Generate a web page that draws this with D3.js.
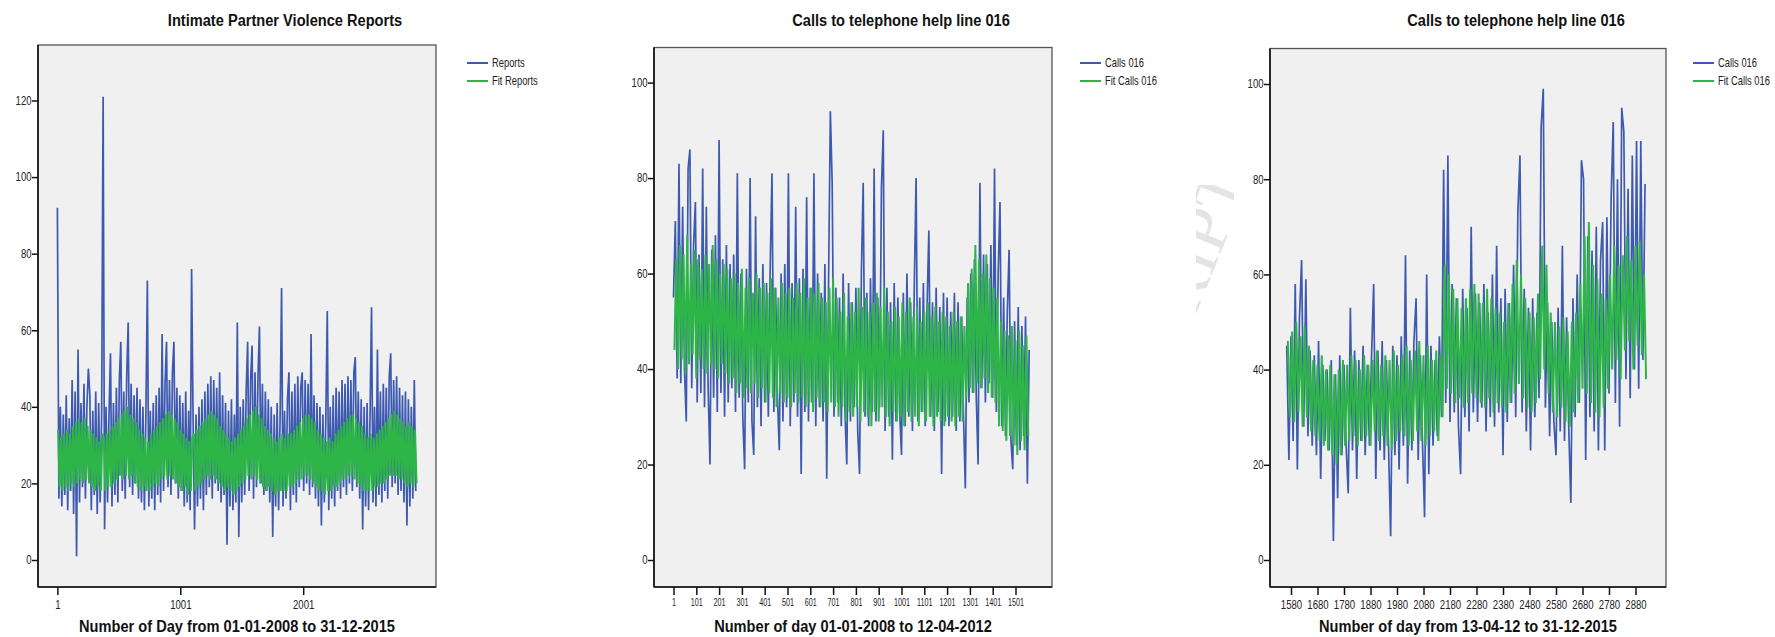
<!DOCTYPE html>
<html>
<head>
<meta charset="utf-8">
<script src="https://cdn.jsdelivr.net/npm/d3@7/dist/d3.min.js"></script>
<style>
  body { margin: 0; background: #fff; }
  svg { display: block; font-family: "Liberation Sans", Arial, sans-serif; }
</style>
</head>
<body>
<svg id="chart" width="1775" height="637"></svg>
<script>
// ---- data ----
// panel 1: reports, one value every 12 days from day 1; fit every 12 days from day 7
var reportsValues = [
  92,16,40,14,38,17,43,13,37,18,47,12,44,1,55,15,41,19,46,16,40,50,43,13,39,17,44,12,41,15,38,
  121,8,40,15,38,54,14,41,17,45,15,47,57,18,44,16,48,62,19,46,17,43,20,45,16,42,15,40,13,38,
  73,14,39,16,41,13,43,17,45,15,59,18,46,57,19,47,17,49,57,20,45,16,43,18,41,14,44,15,39,13,76,
  37,8,38,14,40,16,42,13,44,17,46,19,48,16,47,20,45,18,49,15,43,17,41,4,39,14,42,13,38,15,
  62,6,40,15,42,17,44,57,18,47,56,16,49,19,48,61,20,46,17,44,18,42,15,40,6,38,14,41,13,37,71,
  14,39,16,42,49,13,44,17,46,15,48,19,45,49,18,47,20,46,17,59,19,43,16,41,14,40,9,38,15,37,
  65,13,40,16,43,14,45,18,44,16,47,19,46,17,48,20,47,18,49,53,19,44,16,42,8,40,14,41,13,38,
  66,15,40,14,55,17,44,15,46,18,45,16,48,54,19,47,20,48,17,45,18,43,15,44,9,42,14,40,16,47,18
];
var fitReportsValues = [
  34,19,32,18,33,19,34,18,33,20,35,19,36,20,37,21,36,20,37,21,35,20,34,19,33,18,32,19,31,18,33,
  32,18,33,19,34,19,35,20,36,21,37,22,38,21,39,22,40,21,38,22,37,20,36,19,34,18,33,19,32,18,
  31,18,33,19,34,20,35,19,36,21,37,22,38,21,39,22,38,21,37,20,36,19,34,18,33,19,32,17,31,18,32,
  33,18,34,19,35,20,36,21,37,22,38,21,39,22,38,21,37,20,35,19,34,18,33,19,32,18,31,17,32,18,
  33,19,34,20,35,21,37,22,38,21,39,22,40,21,38,20,37,19,35,18,34,19,33,18,32,17,31,18,32,18,33,
  18,32,18,33,19,33,19,34,20,35,21,36,21,37,22,38,22,38,21,37,20,36,19,34,18,33,18,32,17,31,
  18,32,18,31,19,33,19,34,20,35,21,36,21,37,22,38,22,38,21,37,20,36,19,35,18,33,18,32,18,33,
  18,32,19,33,19,34,20,35,20,36,21,37,22,38,22,39,22,38,21,37,21,36,20,35,19,36,20,35,19,34,20
];

// panel 2: calls 016, one value every 8 days from day 1; fit every 8 days from day 5
var calls1Values = [
  55,71,38,83,37,74,40,29,82,86, 36,66,75,33,64,35,82,32,74,36, 20,65,34,68,31,88,35,63,30,66,
  33,62,36,64,31,81,34,60,30,19, 61,33,80,29,22,72,32,59,28,62, 33,58,30,61,81,31,57,34,23,60,
  29,62,32,81,28,58,33,74,30,59, 18,61,31,76,29,57,33,81,28,60, 32,56,29,62,17,58,94,79,30,57,
  33,55,28,60,31,20,58,29,54,32, 57,27,18,60,79,30,56,28,59,31, 82,29,55,32,78,90,27,57,30,54,
  21,58,29,55,31,22,56,28,60,30, 54,27,57,80,29,55,31,58,28,53, 69,30,54,27,57,31,53,18,56,29,
  55,28,52,30,56,27,54,29,51,30, 15,55,33,60,35,63,34,20,79,36, 64,33,62,37,66,34,82,31,60,75,
  28,55,26,52,65,25,19,50,24,53, 23,49,26,51,16,44
];
var fitCalls1Values = [
  44,63,40,66,42,64,39,68,41,62, 43,65,38,63,42,61,40,64,39,62, 41,66,40,63,38,60,41,62,39,61,
  37,59,38,60,35,58,37,61,34,57, 36,59,35,56,37,60,34,57,36,58, 33,56,35,59,34,57,32,55,35,58,
  33,56,34,57,32,55,35,58,33,56, 34,59,32,55,33,57,31,56,34,58, 32,55,33,54,31,57,33,59,32,55,
  30,52,32,56,29,51,31,54,30,52, 32,57,29,53,31,55,30,52,28,54, 31,56,29,53,32,57,30,52,28,50,
  31,53,29,51,30,54,28,52,31,55, 29,51,30,53,28,50,31,52,29,54, 30,51,28,53,30,50,29,52,28,51,
  30,49,29,52,28,50,30,51,29,49, 34,58,36,61,35,66,37,63,36,60, 38,64,35,59,34,57,33,55,28,50,
  27,48,25,47,26,49,24,46,22,48, 25,45,23,47,26
];

// panel 3: calls 016, one value every 8 days from day 1564; fit every 8 days from day 1568
var calls2Values = [
  45,21,47,25,58,19,51,63,28,59, 26,44,24,43,22,46,17,41,25,40, 23,42,4,39,13,43,22,41,24,14,
  53,23,44,17,42,25,45,22,41,24, 43,58,17,44,23,46,21,42,24,5, 45,22,43,19,47,24,64,16,44,23,
  46,55,21,43,25,9,60,18,45,24, 42,26,47,30,82,33,85,29,58,31, 55,28,18,57,30,53,27,70,31,56,
  29,54,32,58,27,52,30,60,28,66, 31,55,22,57,29,54,33,62,30,73, 85,31,57,27,53,23,55,30,52,34,
  91,99,32,54,26,50,29,22,53,27, 66,25,51,28,12,55,30,60,33,84, 80,21,68,30,65,27,70,23,63,71,
  23,72,35,76,92,33,80,28,95,90, 38,78,34,85,40,88,36,88,42,79
];
var fitCalls2Values = [
  46,30,48,29,50,31,47,28,49,30, 45,27,42,26,41,25,43,24,40,23, 41,22,39,20,40,22,42,24,41,25,
  43,26,42,24,40,25,43,26,41,24, 42,27,44,25,41,26,43,24,42,23, 44,25,41,27,43,26,45,24,42,25,
  44,27,46,25,43,24,45,26,42,27, 44,25,43,30,62,36,60,35,57,33, 55,34,53,32,55,33,57,35,58,34,
  56,33,54,32,57,34,55,31,53,33, 52,32,50,31,54,33,58,35,63,37, 60,34,55,32,52,31,51,33,56,38,
  66,40,62,35,52,31,50,30,49,32, 51,29,48,28,50,31,52,33,58,36, 68,35,71,33,62,31,59,30,56,32,
  55,36,60,40,66,42,62,38,64,44, 68,46,63,40,66,45,67,43,60,38
];

var ticks1 = [1, 1001, 2001];
var ticks2 = [1, 101, 201, 301, 401, 501, 601, 701, 801, 901, 1001, 1101, 1201, 1301, 1401, 1501];
var ticks3 = [1580, 1680, 1780, 1880, 1980, 2080, 2180, 2280, 2380, 2480, 2580, 2680, 2780, 2880];
var yTicks1 = [0, 20, 40, 60, 80, 100, 120];
var yTicks2 = [0, 20, 40, 60, 80, 100];

var blue = "#3d59b0", green = "#2db547";

var panels = [
  { title: "Intimate Partner Violence Reports", xTitle: "Number of Day from 01-01-2008 to 31-12-2015",
    box: [38, 45, 436, 587], xd: [1, 2001], xr: [57.4, 303.2], yd: [0, 120], yr: [560, 100.5],
    series: reportsValues, sStart: 1, sStep: 12, fit: fitReportsValues, fStart: 7, fStep: 12,
    xTicks: ticks1, yTicks: yTicks1, xFont: 12, legendGap: 31, names: ["Reports", "Fit Reports"] },
  { title: "Calls to telephone help line 016", xTitle: "Number of day 01-01-2008 to 12-04-2012",
    box: [654, 47.5, 1052, 587], xd: [1, 1501], xr: [673.5, 1015.5], yd: [0, 100], yr: [560, 82.6],
    series: calls1Values, sStart: 1, sStep: 8, fit: fitCalls1Values, fStart: 5, fStep: 8,
    xTicks: ticks2, yTicks: yTicks2, xFont: 10, legendGap: 28, names: ["Calls 016", "Fit Calls 016"] },
  { title: "Calls to telephone help line 016", xTitle: "Number of day from 13-04-12 to 31-12-2015",
    box: [1270, 48.5, 1666, 587], xd: [1580, 2880], xr: [1291, 1635.5], yd: [0, 100], yr: [560, 84],
    series: calls2Values, sStart: 1564, sStep: 8, fit: fitCalls2Values, fStart: 1568, fStep: 8,
    xTicks: ticks3, yTicks: yTicks2, xFont: 12, legendGap: 27, names: ["Calls 016", "Fit Calls 016"] }
];

var svg = d3.select("#chart");

// narrow look of the original (no narrow font installed): squeeze text horizontally
function label(parent, x, y, str, size, bold, anchor, squeeze) {
  return parent.append("text")
    .attr("transform", "translate(" + x + "," + y + ") scale(" + squeeze + ",1)")
    .attr("text-anchor", anchor)
    .style("font-size", size + "px")
    .style("font-weight", bold ? "bold" : "normal")
    .attr("fill", "#111")
    .text(str);
}

// faint watermark left over between panels 2 and 3 (clip on the group, not the rotated text)
svg.append("clipPath").attr("id", "wm").append("rect")
  .attr("x", 1196).attr("y", 185).attr("width", 38).attr("height", 135);
svg.append("g").attr("clip-path", "url(#wm)")
  .append("text")
  .attr("transform", "translate(1250,180) rotate(-68)")
  .attr("text-anchor", "end")
  .attr("fill", "#e4e4e4")
  .style("font-family", "Liberation Serif, serif")
  .style("font-size", "70px")
  .text("MANUSCRIPT");

panels.forEach(function(p, i) {
  var g = svg.append("g");
  var x0 = p.box[0], y0 = p.box[1], x1 = p.box[2], y1 = p.box[3];
  var cx = (x0 + x1) / 2;

  var x = d3.scaleLinear().domain(p.xd).range(p.xr);
  var y = d3.scaleLinear().domain(p.yd).range(p.yr);

  g.append("rect").attr("x", x0).attr("y", y0).attr("width", x1 - x0).attr("height", y1 - y0)
    .attr("fill", "#f0f0f0");

  g.append("clipPath").attr("id", "clip" + i).append("rect")
    .attr("x", x0).attr("y", y0).attr("width", x1 - x0).attr("height", y1 - y0);

  var line = function(start, step) {
    return d3.line()
      .x(function(d, k) { return x(start + k * step); })
      .y(function(d) { return y(d); });
  };

  g.append("path").datum(p.series)
    .attr("clip-path", "url(#clip" + i + ")")
    .attr("fill", "none").attr("stroke", blue).attr("stroke-width", 1.7)
    .attr("d", line(p.sStart, p.sStep));

  g.append("path").datum(p.fit)
    .attr("clip-path", "url(#clip" + i + ")")
    .attr("fill", "none").attr("stroke", green).attr("stroke-width", 2)
    .attr("d", line(p.fStart, p.fStep));

  // frame
  g.append("rect").attr("x", x0).attr("y", y0).attr("width", x1 - x0).attr("height", y1 - y0)
    .attr("fill", "none").attr("stroke", "#555").attr("stroke-width", 1.3);

  // y axis
  var ya = g.append("g").attr("transform", "translate(" + x0 + ",0)")
    .call(d3.axisLeft(y).tickValues(p.yTicks).tickSize(6).tickPadding(2).tickFormat(d3.format("d")));
  ya.select(".domain").attr("d", "M0," + y0 + "V" + y1).attr("stroke", "#111").attr("stroke-width", 1.6);
  ya.selectAll(".tick line").attr("stroke", "#111").attr("stroke-width", 1.5);
  ya.selectAll(".tick text").attr("fill", "#222").style("font-size", "12px")
    .attr("transform", "scale(0.8,1)");

  // x axis
  var xa = g.append("g").attr("transform", "translate(0," + y1 + ")")
    .call(d3.axisBottom(x).tickValues(p.xTicks).tickSize(8).tickPadding(p.xFont < 12 ? 4 : 5).tickFormat(d3.format("d")));
  xa.select(".domain").attr("d", "M" + x0 + ",0H" + x1).attr("stroke", "#111").attr("stroke-width", 1.6);
  xa.selectAll(".tick line").attr("stroke", "#111").attr("stroke-width", 1.5);
  xa.selectAll(".tick text").attr("fill", "#222").style("font-size", p.xFont + "px")
    .attr("transform", "scale(" + (p.xFont < 12 ? 0.72 : 0.8) + ",1)");

  // titles
  label(g, cx + 48, 26, p.title, 17, true, "middle", 0.86);
  label(g, cx, 632, p.xTitle, 17, true, "middle", 0.86);

  // legend
  [blue, green].forEach(function(c, k) {
    var ly = 63 + k * 18;
    var lx = x1 + p.legendGap;
    g.append("line").attr("x1", lx).attr("x2", lx + 21).attr("y1", ly).attr("y2", ly)
      .attr("stroke", c).attr("stroke-width", 2);
    label(g, lx + 25, ly + 4, p.names[k], 12, false, "start", 0.78).attr("fill", "#222");
  });
});
</script>
</body>
</html>
